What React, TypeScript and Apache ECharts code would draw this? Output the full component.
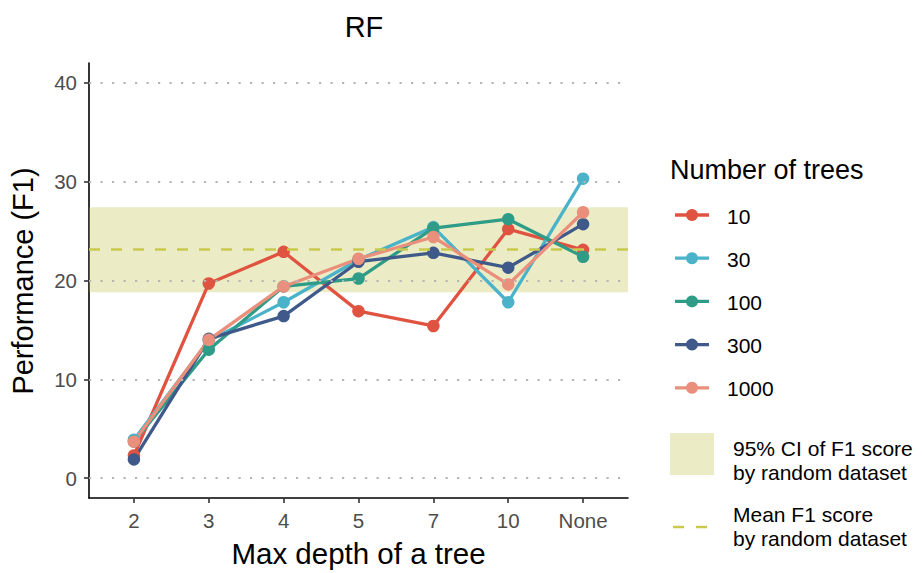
import React, { useEffect, useRef } from "react";
import * as echarts from "echarts";

// Max depth settings on the x axis (plotted at positions 1..7)
const depthLabels = ["2", "3", "4", "5", "7", "10", "None"];

// F1 performance per number of trees
const treeCounts = ["10", "30", "100", "300", "1000"];
const trees10 = [2.3, 19.7, 22.9, 16.9, 15.4, 25.2, 23.1];
const trees30 = [3.9, 13.9, 17.8, 22.1, 25.4, 17.8, 30.3];
const trees100 = [3.7, 13.0, 19.4, 20.2, 25.3, 26.2, 22.4];
const trees300 = [1.9, 14.1, 16.4, 21.9, 22.8, 21.3, 25.7];
const trees1000 = [3.7, 14.0, 19.4, 22.2, 24.4, 19.6, 26.9];
const seriesValues = [trees10, trees30, trees100, trees300, trees1000];
const seriesColors = ["#DF5340", "#4BB3C9", "#2E9C86", "#3F5A8A", "#EA8F7B"];

// Random-dataset reference: 95% CI and mean of F1
const randomCI = [18.8, 27.4];
const randomMean = 23.2;

const yTicks = [0, 10, 20, 30, 40];
const xTicks = [1, 2, 3, 4, 5, 6, 7];

const FONT = "'Liberation Sans', Arial, Helvetica, sans-serif";

export default function App() {
  const ref = useRef<HTMLDivElement>(null);

  useEffect(() => {
    if (!ref.current) return;
    const chart = echarts.init(ref.current, undefined, { renderer: "svg" });

    const lineSeries = treeCounts.map((name, i) => ({
      name,
      type: "line",
      z: 3,
      data: seriesValues[i].map((v, k) => [k + 1, v]),
      symbol: "circle",
      symbolSize: 12.5,
      showSymbol: true,
      color: seriesColors[i],
      lineStyle: { width: 3.3, color: seriesColors[i] },
      itemStyle: { color: seriesColors[i] },
      emphasis: { disabled: true },
    }));

    const legendItems: any[] = [];
    treeCounts.forEach((name, i) => {
      const cy = 215 + i * 43.2;
      legendItems.push(
        {
          type: "line",
          shape: { x1: 675, y1: cy, x2: 709, y2: cy },
          style: { stroke: seriesColors[i], lineWidth: 3.3 },
        },
        {
          type: "circle",
          shape: { cx: 692, cy, r: 6 },
          style: { fill: seriesColors[i] },
        },
        {
          type: "text",
          x: 727,
          y: cy + 1,
          style: {
            text: name,
            font: `21px ${FONT}`,
            fill: "#000",
            textVerticalAlign: "middle",
          },
        }
      );
    });

    chart.setOption({
      animation: false,
      backgroundColor: "#fff",
      textStyle: { fontFamily: FONT },
      title: {
        text: "RF",
        left: 359,
        top: 7,
        textAlign: "center",
        textStyle: { fontSize: 29, fontWeight: "normal", color: "#000", fontFamily: FONT },
      },
      grid: { left: 89, right: 295, top: 63, bottom: 73 },
      xAxis: {
        type: "value",
        min: 0.4,
        max: 7.6,
        splitLine: { show: false },
        axisLine: { show: true, onZero: false, lineStyle: { color: "#000", width: 1.6 } },
        axisTick: {
          show: true,
          customValues: xTicks,
          length: 5,
          lineStyle: { color: "#333", width: 1.6 },
        },
        axisLabel: {
          customValues: xTicks,
          formatter: (v: number) => depthLabels[Math.round(v) - 1] ?? "",
          fontSize: 20.5,
          color: "#4D4D4D",
          margin: 12,
          fontFamily: FONT,
        },
        name: "Max depth of a tree",
        nameLocation: "middle",
        nameGap: 40,
        nameTextStyle: { fontSize: 29.5, color: "#000", fontFamily: FONT },
      },
      yAxis: {
        type: "value",
        min: -2,
        max: 42,
        splitLine: { show: false },
        axisLine: { show: true, onZero: false, lineStyle: { color: "#000", width: 1.6 } },
        axisTick: {
          show: true,
          customValues: yTicks,
          length: 5,
          lineStyle: { color: "#333", width: 1.6 },
        },
        axisLabel: {
          customValues: yTicks,
          fontSize: 20.5,
          color: "#4D4D4D",
          margin: 12,
          fontFamily: FONT,
        },
      },
      series: [
        // dotted horizontal gridlines beneath everything
        {
          type: "line",
          data: [],
          z: 1,
          silent: true,
          markLine: {
            silent: true,
            symbol: "none",
            label: { show: false },
            emphasis: { disabled: true },
            lineStyle: { color: "#B5B5B5", width: 2.2, type: [2.2, 9.3] },
            data: yTicks.map((t) => ({ yAxis: t })),
          },
        },
        ...lineSeries,
        // translucent random-dataset CI band and mean line over the lines
        {
          type: "line",
          data: [],
          z: 10,
          silent: true,
          markArea: {
            silent: true,
            emphasis: { disabled: true },
            itemStyle: { color: "rgba(188,192,62,0.3)" },
            data: [[{ yAxis: randomCI[0] }, { yAxis: randomCI[1] }]],
          },
          markLine: {
            silent: true,
            symbol: "none",
            label: { show: false },
            emphasis: { disabled: true },
            lineStyle: { color: "#C9C94E", width: 2.5, type: [11, 11] },
            data: [{ yAxis: randomMean }],
          },
        },
      ],
      graphic: [
        {
          type: "text",
          x: 23,
          y: 281,
          rotation: Math.PI / 2,
          style: {
            text: "Performance (F1)",
            font: `29px ${FONT}`,
            fill: "#000",
            textAlign: "center",
            textVerticalAlign: "middle",
          },
        },
        {
          type: "text",
          x: 670,
          y: 170,
          style: {
            text: "Number of trees",
            font: `27px ${FONT}`,
            fill: "#000",
            textVerticalAlign: "middle",
          },
        },
        ...legendItems,
        {
          type: "rect",
          shape: { x: 670, y: 433, width: 44, height: 42 },
          style: { fill: "#EBEBC5" },
        },
        {
          type: "text",
          x: 733,
          y: 460,
          style: {
            text: "95% CI of F1 score\nby random dataset",
            font: `21px ${FONT}`,
            lineHeight: 24,
            fill: "#000",
            textVerticalAlign: "middle",
          },
        },
        {
          type: "line",
          shape: { x1: 673, y1: 527, x2: 710, y2: 527 },
          style: { stroke: "#C9C94E", lineWidth: 2.5, lineDash: [11, 12] },
        },
        {
          type: "text",
          x: 733,
          y: 526,
          style: {
            text: "Mean F1 score\nby random dataset",
            font: `21px ${FONT}`,
            lineHeight: 24,
            fill: "#000",
            textVerticalAlign: "middle",
          },
        },
      ],
    });

    return () => chart.dispose();
  }, []);

  return (
    <div
      ref={ref}
      style={{ position: "fixed", left: 0, top: 0, width: 923, height: 573 }}
    />
  );
}
